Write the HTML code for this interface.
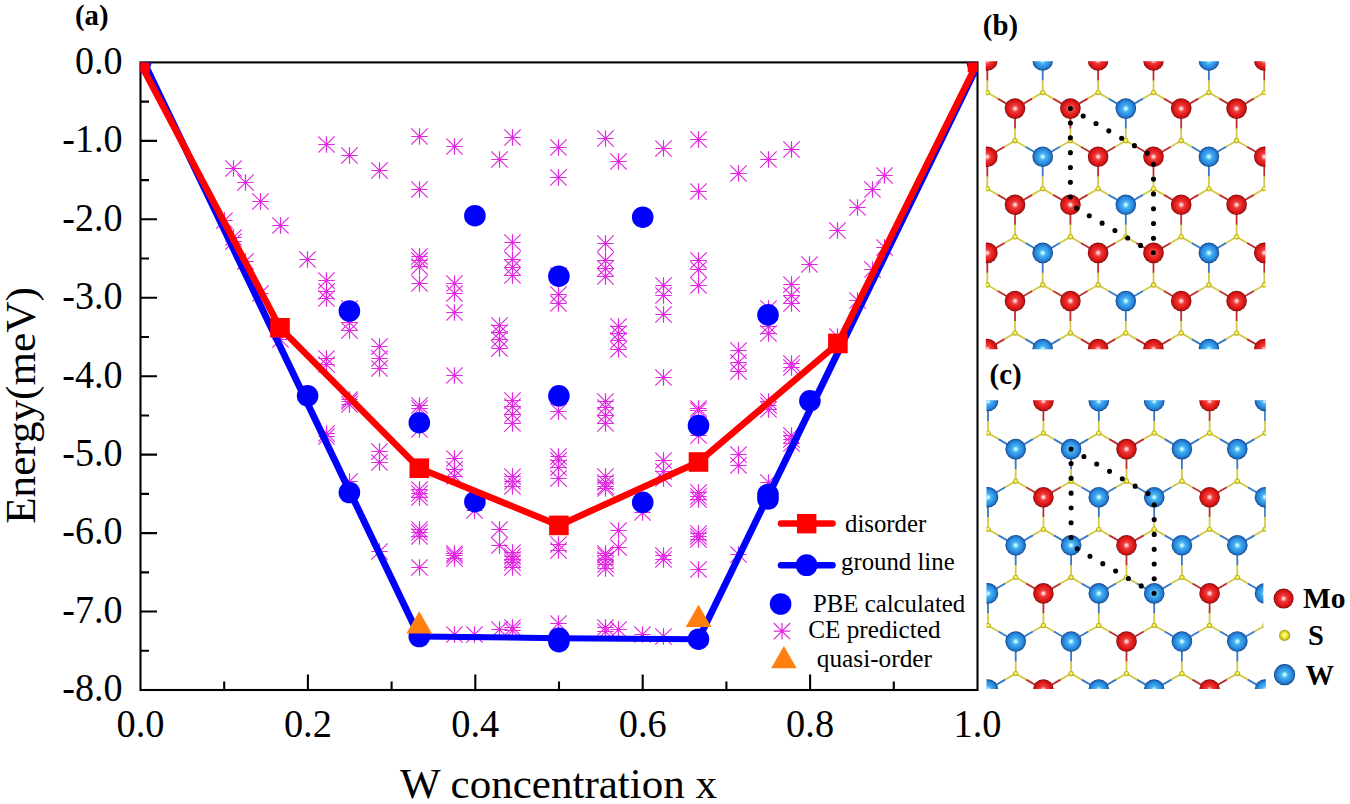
<!DOCTYPE html>
<html><head><meta charset="utf-8"><title>Figure</title>
<style>
html,body{margin:0;padding:0;background:#fff;}
body{width:1350px;height:804px;overflow:hidden;}
svg{display:block;}
text{font-family:"Liberation Serif",serif;fill:#000;}
</style></head><body>
<svg width="1350" height="804" viewBox="0 0 1350 804">
<defs>
<radialGradient id="gR" cx="0.5" cy="0.5" r="0.5" fx="0.5" fy="0.5">
 <stop offset="0" stop-color="#fff0f0"/>
 <stop offset="0.1" stop-color="#ffc8c8"/>
 <stop offset="0.32" stop-color="#f03a3a"/>
 <stop offset="0.7" stop-color="#e01818"/>
 <stop offset="0.88" stop-color="#c01212"/>
 <stop offset="1" stop-color="#6a0808"/>
</radialGradient>
<radialGradient id="gB" cx="0.5" cy="0.5" r="0.5" fx="0.5" fy="0.5">
 <stop offset="0" stop-color="#f4ffff"/>
 <stop offset="0.1" stop-color="#b8f4ff"/>
 <stop offset="0.32" stop-color="#44b0f0"/>
 <stop offset="0.7" stop-color="#2a8ae0"/>
 <stop offset="0.88" stop-color="#1e6cbc"/>
 <stop offset="1" stop-color="#0e3a80"/>
</radialGradient>
<radialGradient id="gS" cx="0.5" cy="0.5" r="0.5" fx="0.5" fy="0.45">
 <stop offset="0" stop-color="#ffffc0"/>
 <stop offset="0.5" stop-color="#f0e830"/>
 <stop offset="1" stop-color="#a09a10"/>
</radialGradient>
<path id="ast" d="M-8.2,0H8.2M0,-8.2V8.2M-8.2,-8.2L8.2,8.2M-8.2,8.2L8.2,-8.2" stroke="#e028e0" stroke-width="1.2" fill="none"/>
<clipPath id="plotclip"><rect x="140.5" y="62.4" width="837" height="627.6"/></clipPath>
<clipPath id="clipB"><rect x="985.8" y="61.2" width="279.6" height="288.1"/></clipPath>
<clipPath id="clipC"><rect x="986.5" y="400.2" width="279.3" height="288.7"/></clipPath>
</defs>

<text x="75" y="25.2" font-size="28.8" font-weight="bold">(a)</text>
<rect x="140.5" y="62.4" width="837.0" height="627.6" fill="none" stroke="#000" stroke-width="2.1"/>
<path d="M140.5,101.62h8.5M140.5,140.85h16.5M140.5,180.08h8.5M140.5,219.30h16.5M140.5,258.52h8.5M140.5,297.75h16.5M140.5,336.97h8.5M140.5,376.20h16.5M140.5,415.43h8.5M140.5,454.65h16.5M140.5,493.88h8.5M140.5,533.10h16.5M140.5,572.33h8.5M140.5,611.55h16.5M140.5,650.77h8.5M224.20,690.0v-8.5M307.90,690.0v-15.5M391.60,690.0v-8.5M475.30,690.0v-15.5M559.00,690.0v-8.5M642.70,690.0v-15.5M726.40,690.0v-8.5M810.10,690.0v-15.5M893.80,690.0v-8.5" stroke="#000" stroke-width="2.1" fill="none"/>
<text transform="translate(122.6,73.7) scale(0.94,1)" font-size="40.5" text-anchor="end">0.0</text>
<text transform="translate(122.6,152.2) scale(0.94,1)" font-size="40.5" text-anchor="end">-1.0</text>
<text transform="translate(122.6,230.6) scale(0.94,1)" font-size="40.5" text-anchor="end">-2.0</text>
<text transform="translate(122.6,309.1) scale(0.94,1)" font-size="40.5" text-anchor="end">-3.0</text>
<text transform="translate(122.6,387.5) scale(0.94,1)" font-size="40.5" text-anchor="end">-4.0</text>
<text transform="translate(122.6,465.9) scale(0.94,1)" font-size="40.5" text-anchor="end">-5.0</text>
<text transform="translate(122.6,544.4) scale(0.94,1)" font-size="40.5" text-anchor="end">-6.0</text>
<text transform="translate(122.6,622.8) scale(0.94,1)" font-size="40.5" text-anchor="end">-7.0</text>
<text transform="translate(122.6,701.3) scale(0.94,1)" font-size="40.5" text-anchor="end">-8.0</text>
<text transform="translate(140.5,737.2) scale(0.948,1)" font-size="40.5" text-anchor="middle">0.0</text>
<text transform="translate(307.9,737.2) scale(0.948,1)" font-size="40.5" text-anchor="middle">0.2</text>
<text transform="translate(475.3,737.2) scale(0.948,1)" font-size="40.5" text-anchor="middle">0.4</text>
<text transform="translate(642.7,737.2) scale(0.948,1)" font-size="40.5" text-anchor="middle">0.6</text>
<text transform="translate(810.1,737.2) scale(0.948,1)" font-size="40.5" text-anchor="middle">0.8</text>
<text transform="translate(977.5,737.2) scale(0.948,1)" font-size="40.5" text-anchor="middle">1.0</text>
<text x="0" y="0" font-size="43.2" text-anchor="middle" transform="translate(34.6,405.5) rotate(-90)">Energy(meV)</text>
<text x="558.5" y="798.1" font-size="43.05" text-anchor="middle">W concentration x</text>
<g clip-path="url(#plotclip)">
<use href="#ast" x="224.5" y="220.5"/>
<use href="#ast" x="233.5" y="168.5"/>
<use href="#ast" x="233.5" y="237.5"/>
<use href="#ast" x="233.5" y="241.5"/>
<use href="#ast" x="245.5" y="182.5"/>
<use href="#ast" x="245.5" y="261.5"/>
<use href="#ast" x="260.5" y="201.5"/>
<use href="#ast" x="260.5" y="293.5"/>
<use href="#ast" x="280.5" y="225.5"/>
<use href="#ast" x="280.5" y="339.5"/>
<use href="#ast" x="307.5" y="259.5"/>
<use href="#ast" x="326.5" y="144.5"/>
<use href="#ast" x="326.5" y="280.5"/>
<use href="#ast" x="326.5" y="291.5"/>
<use href="#ast" x="326.5" y="298.5"/>
<use href="#ast" x="326.5" y="358.5"/>
<use href="#ast" x="326.5" y="364.5"/>
<use href="#ast" x="326.5" y="433.5"/>
<use href="#ast" x="326.5" y="436.5"/>
<use href="#ast" x="349.5" y="155.5"/>
<use href="#ast" x="349.5" y="308.5"/>
<use href="#ast" x="349.5" y="322.5"/>
<use href="#ast" x="349.5" y="330.5"/>
<use href="#ast" x="349.5" y="399.5"/>
<use href="#ast" x="349.5" y="401.5"/>
<use href="#ast" x="349.5" y="404.5"/>
<use href="#ast" x="349.5" y="481.5"/>
<use href="#ast" x="379.5" y="170.5"/>
<use href="#ast" x="379.5" y="346.5"/>
<use href="#ast" x="379.5" y="358.5"/>
<use href="#ast" x="379.5" y="368.5"/>
<use href="#ast" x="379.5" y="451.5"/>
<use href="#ast" x="379.5" y="462.5"/>
<use href="#ast" x="379.5" y="551.5"/>
<use href="#ast" x="419.5" y="136.5"/>
<use href="#ast" x="419.5" y="189.5"/>
<use href="#ast" x="419.5" y="256.5"/>
<use href="#ast" x="419.5" y="260.5"/>
<use href="#ast" x="419.5" y="266.5"/>
<use href="#ast" x="419.5" y="283.5"/>
<use href="#ast" x="419.5" y="405.5"/>
<use href="#ast" x="419.5" y="408.5"/>
<use href="#ast" x="419.5" y="429.5"/>
<use href="#ast" x="419.5" y="489.5"/>
<use href="#ast" x="419.5" y="493.5"/>
<use href="#ast" x="419.5" y="497.5"/>
<use href="#ast" x="419.5" y="529.5"/>
<use href="#ast" x="419.5" y="532.5"/>
<use href="#ast" x="419.5" y="536.5"/>
<use href="#ast" x="419.5" y="567.5"/>
<use href="#ast" x="454.5" y="146.5"/>
<use href="#ast" x="454.5" y="283.5"/>
<use href="#ast" x="454.5" y="293.5"/>
<use href="#ast" x="454.5" y="312.5"/>
<use href="#ast" x="454.5" y="375.5"/>
<use href="#ast" x="454.5" y="458.5"/>
<use href="#ast" x="454.5" y="469.5"/>
<use href="#ast" x="454.5" y="476.5"/>
<use href="#ast" x="454.5" y="553.5"/>
<use href="#ast" x="454.5" y="555.5"/>
<use href="#ast" x="454.5" y="558.5"/>
<use href="#ast" x="454.5" y="634.5"/>
<use href="#ast" x="474.5" y="510.5"/>
<use href="#ast" x="474.5" y="634.5"/>
<use href="#ast" x="499.5" y="159.5"/>
<use href="#ast" x="499.5" y="325.5"/>
<use href="#ast" x="499.5" y="332.5"/>
<use href="#ast" x="499.5" y="339.5"/>
<use href="#ast" x="499.5" y="348.5"/>
<use href="#ast" x="499.5" y="529.5"/>
<use href="#ast" x="499.5" y="545.5"/>
<use href="#ast" x="499.5" y="629.5"/>
<use href="#ast" x="512.5" y="137.5"/>
<use href="#ast" x="512.5" y="242.5"/>
<use href="#ast" x="512.5" y="259.5"/>
<use href="#ast" x="512.5" y="267.5"/>
<use href="#ast" x="512.5" y="275.5"/>
<use href="#ast" x="512.5" y="400.5"/>
<use href="#ast" x="512.5" y="406.5"/>
<use href="#ast" x="512.5" y="414.5"/>
<use href="#ast" x="512.5" y="423.5"/>
<use href="#ast" x="512.5" y="476.5"/>
<use href="#ast" x="512.5" y="481.5"/>
<use href="#ast" x="512.5" y="486.5"/>
<use href="#ast" x="512.5" y="552.5"/>
<use href="#ast" x="512.5" y="556.5"/>
<use href="#ast" x="512.5" y="559.5"/>
<use href="#ast" x="512.5" y="562.5"/>
<use href="#ast" x="512.5" y="567.5"/>
<use href="#ast" x="512.5" y="627.5"/>
<use href="#ast" x="512.5" y="630.5"/>
<use href="#ast" x="558.5" y="147.5"/>
<use href="#ast" x="558.5" y="177.5"/>
<use href="#ast" x="558.5" y="275.5"/>
<use href="#ast" x="558.5" y="294.5"/>
<use href="#ast" x="558.5" y="303.5"/>
<use href="#ast" x="558.5" y="411.5"/>
<use href="#ast" x="558.5" y="456.5"/>
<use href="#ast" x="558.5" y="460.5"/>
<use href="#ast" x="558.5" y="467.5"/>
<use href="#ast" x="558.5" y="478.5"/>
<use href="#ast" x="558.5" y="544.5"/>
<use href="#ast" x="558.5" y="550.5"/>
<use href="#ast" x="558.5" y="623.5"/>
<use href="#ast" x="605.5" y="138.5"/>
<use href="#ast" x="605.5" y="243.5"/>
<use href="#ast" x="605.5" y="260.5"/>
<use href="#ast" x="605.5" y="268.5"/>
<use href="#ast" x="605.5" y="276.5"/>
<use href="#ast" x="605.5" y="401.5"/>
<use href="#ast" x="605.5" y="407.5"/>
<use href="#ast" x="605.5" y="415.5"/>
<use href="#ast" x="605.5" y="423.5"/>
<use href="#ast" x="605.5" y="476.5"/>
<use href="#ast" x="605.5" y="482.5"/>
<use href="#ast" x="605.5" y="486.5"/>
<use href="#ast" x="605.5" y="488.5"/>
<use href="#ast" x="605.5" y="553.5"/>
<use href="#ast" x="605.5" y="555.5"/>
<use href="#ast" x="605.5" y="559.5"/>
<use href="#ast" x="605.5" y="564.5"/>
<use href="#ast" x="605.5" y="568.5"/>
<use href="#ast" x="605.5" y="627.5"/>
<use href="#ast" x="605.5" y="631.5"/>
<use href="#ast" x="618.5" y="161.5"/>
<use href="#ast" x="618.5" y="326.5"/>
<use href="#ast" x="618.5" y="333.5"/>
<use href="#ast" x="618.5" y="340.5"/>
<use href="#ast" x="618.5" y="349.5"/>
<use href="#ast" x="618.5" y="530.5"/>
<use href="#ast" x="618.5" y="547.5"/>
<use href="#ast" x="618.5" y="629.5"/>
<use href="#ast" x="642.5" y="512.5"/>
<use href="#ast" x="642.5" y="634.5"/>
<use href="#ast" x="663.5" y="148.5"/>
<use href="#ast" x="663.5" y="285.5"/>
<use href="#ast" x="663.5" y="295.5"/>
<use href="#ast" x="663.5" y="314.5"/>
<use href="#ast" x="663.5" y="377.5"/>
<use href="#ast" x="663.5" y="460.5"/>
<use href="#ast" x="663.5" y="471.5"/>
<use href="#ast" x="663.5" y="478.5"/>
<use href="#ast" x="663.5" y="555.5"/>
<use href="#ast" x="663.5" y="559.5"/>
<use href="#ast" x="663.5" y="636.5"/>
<use href="#ast" x="698.5" y="139.5"/>
<use href="#ast" x="698.5" y="191.5"/>
<use href="#ast" x="698.5" y="260.5"/>
<use href="#ast" x="698.5" y="269.5"/>
<use href="#ast" x="698.5" y="285.5"/>
<use href="#ast" x="698.5" y="408.5"/>
<use href="#ast" x="698.5" y="410.5"/>
<use href="#ast" x="698.5" y="435.5"/>
<use href="#ast" x="698.5" y="492.5"/>
<use href="#ast" x="698.5" y="496.5"/>
<use href="#ast" x="698.5" y="499.5"/>
<use href="#ast" x="698.5" y="533.5"/>
<use href="#ast" x="698.5" y="536.5"/>
<use href="#ast" x="698.5" y="539.5"/>
<use href="#ast" x="698.5" y="569.5"/>
<use href="#ast" x="738.5" y="173.5"/>
<use href="#ast" x="738.5" y="350.5"/>
<use href="#ast" x="738.5" y="362.5"/>
<use href="#ast" x="738.5" y="371.5"/>
<use href="#ast" x="738.5" y="454.5"/>
<use href="#ast" x="738.5" y="465.5"/>
<use href="#ast" x="738.5" y="554.5"/>
<use href="#ast" x="768.5" y="159.5"/>
<use href="#ast" x="768.5" y="308.5"/>
<use href="#ast" x="768.5" y="326.5"/>
<use href="#ast" x="768.5" y="333.5"/>
<use href="#ast" x="768.5" y="401.5"/>
<use href="#ast" x="768.5" y="405.5"/>
<use href="#ast" x="768.5" y="409.5"/>
<use href="#ast" x="768.5" y="482.5"/>
<use href="#ast" x="791.5" y="149.5"/>
<use href="#ast" x="791.5" y="284.5"/>
<use href="#ast" x="791.5" y="295.5"/>
<use href="#ast" x="791.5" y="303.5"/>
<use href="#ast" x="791.5" y="363.5"/>
<use href="#ast" x="791.5" y="367.5"/>
<use href="#ast" x="791.5" y="435.5"/>
<use href="#ast" x="791.5" y="439.5"/>
<use href="#ast" x="791.5" y="443.5"/>
<use href="#ast" x="809.5" y="264.5"/>
<use href="#ast" x="837.5" y="230.5"/>
<use href="#ast" x="837.5" y="336.5"/>
<use href="#ast" x="857.5" y="207.5"/>
<use href="#ast" x="857.5" y="300.5"/>
<use href="#ast" x="872.5" y="189.5"/>
<use href="#ast" x="872.5" y="269.5"/>
<use href="#ast" x="884.5" y="175.5"/>
<use href="#ast" x="884.5" y="247.5"/>
<polyline points="144.0,62.4 419.3,636.5" fill="none" stroke="#0000ff" stroke-width="6.8" stroke-linejoin="round"/>
<polyline points="419.3,636.5 558.9,638.2 698.5,639.2" fill="none" stroke="#0000ff" stroke-width="6.0" stroke-linejoin="round"/>
<polyline points="698.5,639.2 979.0,62.4" fill="none" stroke="#0000ff" stroke-width="6.8" stroke-linejoin="round"/>
<circle cx="307.6" cy="395.8" r="10.8" fill="#0000ff"/>
<circle cx="349.4" cy="311.0" r="10.8" fill="#0000ff"/>
<circle cx="349.4" cy="492.5" r="10.8" fill="#0000ff"/>
<circle cx="419.3" cy="422.7" r="10.8" fill="#0000ff"/>
<circle cx="474.9" cy="215.7" r="10.8" fill="#0000ff"/>
<circle cx="474.9" cy="501.7" r="10.8" fill="#0000ff"/>
<circle cx="558.9" cy="276.2" r="10.8" fill="#0000ff"/>
<circle cx="558.9" cy="395.8" r="10.8" fill="#0000ff"/>
<circle cx="642.7" cy="217.2" r="10.8" fill="#0000ff"/>
<circle cx="642.7" cy="502.4" r="10.8" fill="#0000ff"/>
<circle cx="698.5" cy="425.5" r="10.8" fill="#0000ff"/>
<circle cx="768.0" cy="314.9" r="10.8" fill="#0000ff"/>
<circle cx="768.0" cy="494.5" r="10.8" fill="#0000ff"/>
<circle cx="768.0" cy="499.0" r="10.8" fill="#0000ff"/>
<circle cx="809.9" cy="400.8" r="10.8" fill="#0000ff"/>
<circle cx="140.5" cy="62.4" r="10.8" fill="#0000ff"/>
<circle cx="977.5" cy="62.4" r="10.8" fill="#0000ff"/>
<circle cx="558.9" cy="641.6" r="10.8" fill="#0000ff"/>
<circle cx="419.3" cy="636.5" r="10.8" fill="#0000ff"/>
<circle cx="558.9" cy="638.2" r="10.8" fill="#0000ff"/>
<circle cx="698.5" cy="639.2" r="10.8" fill="#0000ff"/>
<polyline points="139.9,62.4 280.0,327.8 419.3,468.2 558.9,525.4 698.5,462.0 837.9,343.5 977.5,62.4" fill="none" stroke="#ff0000" stroke-width="6.6" stroke-linejoin="round"/>
<rect x="130.1" y="52.6" width="19.6" height="19.6" fill="#ff0000"/>
<rect x="270.2" y="318.0" width="19.6" height="19.6" fill="#ff0000"/>
<rect x="409.5" y="458.4" width="19.6" height="19.6" fill="#ff0000"/>
<rect x="549.1" y="515.6" width="19.6" height="19.6" fill="#ff0000"/>
<rect x="688.7" y="452.2" width="19.6" height="19.6" fill="#ff0000"/>
<rect x="828.1" y="333.7" width="19.6" height="19.6" fill="#ff0000"/>
<rect x="967.7" y="52.6" width="19.6" height="19.6" fill="#ff0000"/>
<path d="M419.2,611.3L432.0,633.5L406.4,633.5Z" fill="#ff8010"/>
<path d="M698.5,604.8L711.3,627.0L685.7,627.0Z" fill="#ff8010"/>
</g>
<line x1="781" y1="523.5" x2="832.5" y2="523.5" stroke="#ff0000" stroke-width="6.5" stroke-linecap="round"/>
<rect x="797" y="514" width="19.4" height="19.4" fill="#ff0000"/>
<text x="845" y="531.5" font-size="24.8">disorder</text>
<line x1="781" y1="565.2" x2="832.5" y2="565.2" stroke="#0000ff" stroke-width="6.5" stroke-linecap="round"/>
<circle cx="806.6" cy="565.2" r="10.9" fill="#0000ff"/>
<text x="841" y="570.3" font-size="24.8">ground line</text>
<circle cx="780.6" cy="604" r="10.8" fill="#0000ff"/>
<text x="813" y="611.6" font-size="24.8">PBE calculated</text>
<use href="#ast" x="782" y="631.2"/>
<text x="808.3" y="637.9" font-size="25.2">CE predicted</text>
<path d="M783.9,646.0L796.6999999999999,668.2L771.1,668.2Z" fill="#ff8010"/>
<text x="816.8" y="667.2" font-size="25.3">quasi-order</text>
<text x="982.8" y="35" font-size="28.8" font-weight="bold">(b)</text>
<g clip-path="url(#clipB)">
<path d="M904.20,44.47L904.20,32.28M904.20,44.47L893.68,50.55M904.20,44.47L914.72,50.55M959.60,44.47L959.60,32.28M959.60,44.47L949.08,50.55M959.60,44.47L970.12,50.55M1015.00,44.47L1015.00,32.28M1015.00,44.47L1004.48,50.55M1015.00,44.47L1025.52,50.55M1070.40,44.47L1070.40,32.28M1070.40,44.47L1059.88,50.55M1070.40,44.47L1080.92,50.55M1125.80,44.47L1125.80,32.28M1125.80,44.47L1115.28,50.55M1125.80,44.47L1136.32,50.55M1181.20,44.47L1181.20,32.28M1181.20,44.47L1170.68,50.55M1181.20,44.47L1191.72,50.55M1236.60,44.47L1236.60,32.28M1236.60,44.47L1226.08,50.55M1236.60,44.47L1247.12,50.55M1292.00,44.47L1292.00,32.28M1292.00,44.47L1281.48,50.55M1292.00,44.47L1302.52,50.55M1347.40,44.47L1347.40,32.28M1347.40,44.47L1336.88,50.55M1347.40,44.47L1357.92,50.55M1402.80,44.47L1402.80,32.28M1402.80,44.47L1392.28,50.55M876.50,92.57L876.50,80.38M876.50,92.57L887.02,98.65M931.90,92.57L931.90,80.38M931.90,92.57L921.38,98.65M931.90,92.57L942.42,98.65M987.30,92.57L987.30,80.38M987.30,92.57L976.78,98.65M987.30,92.57L997.82,98.65M1042.70,92.57L1042.70,80.38M1042.70,92.57L1032.18,98.65M1042.70,92.57L1053.22,98.65M1098.10,92.57L1098.10,80.38M1098.10,92.57L1087.58,98.65M1098.10,92.57L1108.62,98.65M1153.50,92.57L1153.50,80.38M1153.50,92.57L1142.98,98.65M1153.50,92.57L1164.02,98.65M1208.90,92.57L1208.90,80.38M1208.90,92.57L1198.38,98.65M1208.90,92.57L1219.42,98.65M1264.30,92.57L1264.30,80.38M1264.30,92.57L1253.78,98.65M1264.30,92.57L1274.82,98.65M1319.70,92.57L1319.70,80.38M1319.70,92.57L1309.18,98.65M1319.70,92.57L1330.22,98.65M1375.10,92.57L1375.10,80.38M1375.10,92.57L1364.58,98.65M1375.10,92.57L1385.62,98.65M904.20,140.67L904.20,128.48M904.20,140.67L893.68,146.75M904.20,140.67L914.72,146.75M959.60,140.67L959.60,128.48M959.60,140.67L949.08,146.75M959.60,140.67L970.12,146.75M1015.00,140.67L1015.00,128.48M1015.00,140.67L1004.48,146.75M1015.00,140.67L1025.52,146.75M1070.40,140.67L1070.40,128.48M1070.40,140.67L1059.88,146.75M1070.40,140.67L1080.92,146.75M1125.80,140.67L1125.80,128.48M1125.80,140.67L1115.28,146.75M1125.80,140.67L1136.32,146.75M1181.20,140.67L1181.20,128.48M1181.20,140.67L1170.68,146.75M1181.20,140.67L1191.72,146.75M1236.60,140.67L1236.60,128.48M1236.60,140.67L1226.08,146.75M1236.60,140.67L1247.12,146.75M1292.00,140.67L1292.00,128.48M1292.00,140.67L1281.48,146.75M1292.00,140.67L1302.52,146.75M1347.40,140.67L1347.40,128.48M1347.40,140.67L1336.88,146.75M1347.40,140.67L1357.92,146.75M1402.80,140.67L1402.80,128.48M1402.80,140.67L1392.28,146.75M876.50,188.77L876.50,176.58M876.50,188.77L887.02,194.85M931.90,188.77L931.90,176.58M931.90,188.77L921.38,194.85M931.90,188.77L942.42,194.85M987.30,188.77L987.30,176.58M987.30,188.77L976.78,194.85M987.30,188.77L997.82,194.85M1042.70,188.77L1042.70,176.58M1042.70,188.77L1032.18,194.85M1042.70,188.77L1053.22,194.85M1098.10,188.77L1098.10,176.58M1098.10,188.77L1087.58,194.85M1098.10,188.77L1108.62,194.85M1153.50,188.77L1153.50,176.58M1153.50,188.77L1142.98,194.85M1153.50,188.77L1164.02,194.85M1208.90,188.77L1208.90,176.58M1208.90,188.77L1198.38,194.85M1208.90,188.77L1219.42,194.85M1264.30,188.77L1264.30,176.58M1264.30,188.77L1253.78,194.85M1264.30,188.77L1274.82,194.85M1319.70,188.77L1319.70,176.58M1319.70,188.77L1309.18,194.85M1319.70,188.77L1330.22,194.85M1375.10,188.77L1375.10,176.58M1375.10,188.77L1364.58,194.85M1375.10,188.77L1385.62,194.85M904.20,236.87L904.20,224.68M904.20,236.87L893.68,242.95M904.20,236.87L914.72,242.95M959.60,236.87L959.60,224.68M959.60,236.87L949.08,242.95M959.60,236.87L970.12,242.95M1015.00,236.87L1015.00,224.68M1015.00,236.87L1004.48,242.95M1015.00,236.87L1025.52,242.95M1070.40,236.87L1070.40,224.68M1070.40,236.87L1059.88,242.95M1070.40,236.87L1080.92,242.95M1125.80,236.87L1125.80,224.68M1125.80,236.87L1115.28,242.95M1125.80,236.87L1136.32,242.95M1181.20,236.87L1181.20,224.68M1181.20,236.87L1170.68,242.95M1181.20,236.87L1191.72,242.95M1236.60,236.87L1236.60,224.68M1236.60,236.87L1226.08,242.95M1236.60,236.87L1247.12,242.95M1292.00,236.87L1292.00,224.68M1292.00,236.87L1281.48,242.95M1292.00,236.87L1302.52,242.95M1347.40,236.87L1347.40,224.68M1347.40,236.87L1336.88,242.95M1347.40,236.87L1357.92,242.95M1402.80,236.87L1402.80,224.68M1402.80,236.87L1392.28,242.95M876.50,284.97L876.50,272.78M876.50,284.97L887.02,291.05M931.90,284.97L931.90,272.78M931.90,284.97L921.38,291.05M931.90,284.97L942.42,291.05M987.30,284.97L987.30,272.78M987.30,284.97L976.78,291.05M987.30,284.97L997.82,291.05M1042.70,284.97L1042.70,272.78M1042.70,284.97L1032.18,291.05M1042.70,284.97L1053.22,291.05M1098.10,284.97L1098.10,272.78M1098.10,284.97L1087.58,291.05M1098.10,284.97L1108.62,291.05M1153.50,284.97L1153.50,272.78M1153.50,284.97L1142.98,291.05M1153.50,284.97L1164.02,291.05M1208.90,284.97L1208.90,272.78M1208.90,284.97L1198.38,291.05M1208.90,284.97L1219.42,291.05M1264.30,284.97L1264.30,272.78M1264.30,284.97L1253.78,291.05M1264.30,284.97L1274.82,291.05M1319.70,284.97L1319.70,272.78M1319.70,284.97L1309.18,291.05M1319.70,284.97L1330.22,291.05M1375.10,284.97L1375.10,272.78M1375.10,284.97L1364.58,291.05M1375.10,284.97L1385.62,291.05M904.20,333.07L904.20,320.88M904.20,333.07L893.68,339.15M904.20,333.07L914.72,339.15M959.60,333.07L959.60,320.88M959.60,333.07L949.08,339.15M959.60,333.07L970.12,339.15M1015.00,333.07L1015.00,320.88M1015.00,333.07L1004.48,339.15M1015.00,333.07L1025.52,339.15M1070.40,333.07L1070.40,320.88M1070.40,333.07L1059.88,339.15M1070.40,333.07L1080.92,339.15M1125.80,333.07L1125.80,320.88M1125.80,333.07L1115.28,339.15M1125.80,333.07L1136.32,339.15M1181.20,333.07L1181.20,320.88M1181.20,333.07L1170.68,339.15M1181.20,333.07L1191.72,339.15M1236.60,333.07L1236.60,320.88M1236.60,333.07L1226.08,339.15M1236.60,333.07L1247.12,339.15M1292.00,333.07L1292.00,320.88M1292.00,333.07L1281.48,339.15M1292.00,333.07L1302.52,339.15M1347.40,333.07L1347.40,320.88M1347.40,333.07L1336.88,339.15M1347.40,333.07L1357.92,339.15M1402.80,333.07L1402.80,320.88M1402.80,333.07L1392.28,339.15M876.50,381.17L876.50,368.98M876.50,381.17L887.02,387.25M931.90,381.17L931.90,368.98M931.90,381.17L921.38,387.25M931.90,381.17L942.42,387.25M987.30,381.17L987.30,368.98M987.30,381.17L976.78,387.25M987.30,381.17L997.82,387.25M1042.70,381.17L1042.70,368.98M1042.70,381.17L1032.18,387.25M1042.70,381.17L1053.22,387.25M1098.10,381.17L1098.10,368.98M1098.10,381.17L1087.58,387.25M1098.10,381.17L1108.62,387.25M1153.50,381.17L1153.50,368.98M1153.50,381.17L1142.98,387.25M1153.50,381.17L1164.02,387.25M1208.90,381.17L1208.90,368.98M1208.90,381.17L1198.38,387.25M1208.90,381.17L1219.42,387.25M1264.30,381.17L1264.30,368.98M1264.30,381.17L1253.78,387.25M1264.30,381.17L1274.82,387.25M1319.70,381.17L1319.70,368.98M1319.70,381.17L1309.18,387.25M1319.70,381.17L1330.22,387.25M1375.10,381.17L1375.10,368.98M1375.10,381.17L1364.58,387.25M1375.10,381.17L1385.62,387.25M904.20,429.27L904.20,417.08M959.60,429.27L959.60,417.08M1015.00,429.27L1015.00,417.08M1070.40,429.27L1070.40,417.08M1125.80,429.27L1125.80,417.08M1181.20,429.27L1181.20,417.08M1236.60,429.27L1236.60,417.08M1292.00,429.27L1292.00,417.08M1347.40,429.27L1347.40,417.08M1402.80,429.27L1402.80,417.08" stroke="#d2ca46" stroke-width="1.8" fill="none"/>
<path d="M904.20,32.28L904.20,12.40M914.72,50.55L931.90,60.50M949.08,50.55L931.90,60.50M970.12,50.55L987.30,60.50M1015.00,32.28L1015.00,12.40M1004.48,50.55L987.30,60.50M1070.40,32.28L1070.40,12.40M1080.92,50.55L1098.10,60.50M1115.28,50.55L1098.10,60.50M1136.32,50.55L1153.50,60.50M1181.20,32.28L1181.20,12.40M1170.68,50.55L1153.50,60.50M1236.60,32.28L1236.60,12.40M1247.12,50.55L1264.30,60.50M1281.48,50.55L1264.30,60.50M1302.52,50.55L1319.70,60.50M1347.40,32.28L1347.40,12.40M1336.88,50.55L1319.70,60.50M1402.80,32.28L1402.80,12.40M887.02,98.65L904.20,108.60M931.90,80.38L931.90,60.50M921.38,98.65L904.20,108.60M987.30,80.38L987.30,60.50M997.82,98.65L1015.00,108.60M1032.18,98.65L1015.00,108.60M1053.22,98.65L1070.40,108.60M1098.10,80.38L1098.10,60.50M1087.58,98.65L1070.40,108.60M1153.50,80.38L1153.50,60.50M1164.02,98.65L1181.20,108.60M1198.38,98.65L1181.20,108.60M1219.42,98.65L1236.60,108.60M1264.30,80.38L1264.30,60.50M1253.78,98.65L1236.60,108.60M1319.70,80.38L1319.70,60.50M1330.22,98.65L1347.40,108.60M1364.58,98.65L1347.40,108.60M1385.62,98.65L1402.80,108.60M904.20,128.48L904.20,108.60M914.72,146.75L931.90,156.70M949.08,146.75L931.90,156.70M970.12,146.75L987.30,156.70M1015.00,128.48L1015.00,108.60M1004.48,146.75L987.30,156.70M1070.40,128.48L1070.40,108.60M1080.92,146.75L1098.10,156.70M1115.28,146.75L1098.10,156.70M1136.32,146.75L1153.50,156.70M1181.20,128.48L1181.20,108.60M1170.68,146.75L1153.50,156.70M1236.60,128.48L1236.60,108.60M1247.12,146.75L1264.30,156.70M1281.48,146.75L1264.30,156.70M1302.52,146.75L1319.70,156.70M1347.40,128.48L1347.40,108.60M1336.88,146.75L1319.70,156.70M1402.80,128.48L1402.80,108.60M887.02,194.85L904.20,204.80M931.90,176.58L931.90,156.70M921.38,194.85L904.20,204.80M987.30,176.58L987.30,156.70M997.82,194.85L1015.00,204.80M1032.18,194.85L1015.00,204.80M1053.22,194.85L1070.40,204.80M1098.10,176.58L1098.10,156.70M1087.58,194.85L1070.40,204.80M1153.50,176.58L1153.50,156.70M1164.02,194.85L1181.20,204.80M1198.38,194.85L1181.20,204.80M1219.42,194.85L1236.60,204.80M1264.30,176.58L1264.30,156.70M1253.78,194.85L1236.60,204.80M1319.70,176.58L1319.70,156.70M1330.22,194.85L1347.40,204.80M1364.58,194.85L1347.40,204.80M1385.62,194.85L1402.80,204.80M904.20,224.68L904.20,204.80M914.72,242.95L931.90,252.90M949.08,242.95L931.90,252.90M970.12,242.95L987.30,252.90M1015.00,224.68L1015.00,204.80M1004.48,242.95L987.30,252.90M1070.40,224.68L1070.40,204.80M1080.92,242.95L1098.10,252.90M1115.28,242.95L1098.10,252.90M1136.32,242.95L1153.50,252.90M1181.20,224.68L1181.20,204.80M1170.68,242.95L1153.50,252.90M1236.60,224.68L1236.60,204.80M1247.12,242.95L1264.30,252.90M1281.48,242.95L1264.30,252.90M1302.52,242.95L1319.70,252.90M1347.40,224.68L1347.40,204.80M1336.88,242.95L1319.70,252.90M1402.80,224.68L1402.80,204.80M887.02,291.05L904.20,301.00M931.90,272.78L931.90,252.90M921.38,291.05L904.20,301.00M987.30,272.78L987.30,252.90M997.82,291.05L1015.00,301.00M1032.18,291.05L1015.00,301.00M1053.22,291.05L1070.40,301.00M1098.10,272.78L1098.10,252.90M1087.58,291.05L1070.40,301.00M1153.50,272.78L1153.50,252.90M1164.02,291.05L1181.20,301.00M1198.38,291.05L1181.20,301.00M1219.42,291.05L1236.60,301.00M1264.30,272.78L1264.30,252.90M1253.78,291.05L1236.60,301.00M1319.70,272.78L1319.70,252.90M1330.22,291.05L1347.40,301.00M1364.58,291.05L1347.40,301.00M1385.62,291.05L1402.80,301.00M904.20,320.88L904.20,301.00M914.72,339.15L931.90,349.10M949.08,339.15L931.90,349.10M970.12,339.15L987.30,349.10M1015.00,320.88L1015.00,301.00M1004.48,339.15L987.30,349.10M1070.40,320.88L1070.40,301.00M1080.92,339.15L1098.10,349.10M1115.28,339.15L1098.10,349.10M1136.32,339.15L1153.50,349.10M1181.20,320.88L1181.20,301.00M1170.68,339.15L1153.50,349.10M1236.60,320.88L1236.60,301.00M1247.12,339.15L1264.30,349.10M1281.48,339.15L1264.30,349.10M1302.52,339.15L1319.70,349.10M1347.40,320.88L1347.40,301.00M1336.88,339.15L1319.70,349.10M1402.80,320.88L1402.80,301.00M887.02,387.25L904.20,397.20M931.90,368.98L931.90,349.10M921.38,387.25L904.20,397.20M987.30,368.98L987.30,349.10M997.82,387.25L1015.00,397.20M1032.18,387.25L1015.00,397.20M1053.22,387.25L1070.40,397.20M1098.10,368.98L1098.10,349.10M1087.58,387.25L1070.40,397.20M1153.50,368.98L1153.50,349.10M1164.02,387.25L1181.20,397.20M1198.38,387.25L1181.20,397.20M1219.42,387.25L1236.60,397.20M1264.30,368.98L1264.30,349.10M1253.78,387.25L1236.60,397.20M1319.70,368.98L1319.70,349.10M1330.22,387.25L1347.40,397.20M1364.58,387.25L1347.40,397.20M1385.62,387.25L1402.80,397.20M904.20,417.08L904.20,397.20M1015.00,417.08L1015.00,397.20M1070.40,417.08L1070.40,397.20M1181.20,417.08L1181.20,397.20M1236.60,417.08L1236.60,397.20M1347.40,417.08L1347.40,397.20M1402.80,417.08L1402.80,397.20" stroke="#bc2e2e" stroke-width="1.8" fill="none"/>
<path d="M893.68,50.55L876.50,60.50M959.60,32.28L959.60,12.40M1025.52,50.55L1042.70,60.50M1059.88,50.55L1042.70,60.50M1125.80,32.28L1125.80,12.40M1191.72,50.55L1208.90,60.50M1226.08,50.55L1208.90,60.50M1292.00,32.28L1292.00,12.40M1357.92,50.55L1375.10,60.50M1392.28,50.55L1375.10,60.50M876.50,80.38L876.50,60.50M942.42,98.65L959.60,108.60M976.78,98.65L959.60,108.60M1042.70,80.38L1042.70,60.50M1108.62,98.65L1125.80,108.60M1142.98,98.65L1125.80,108.60M1208.90,80.38L1208.90,60.50M1274.82,98.65L1292.00,108.60M1309.18,98.65L1292.00,108.60M1375.10,80.38L1375.10,60.50M893.68,146.75L876.50,156.70M959.60,128.48L959.60,108.60M1025.52,146.75L1042.70,156.70M1059.88,146.75L1042.70,156.70M1125.80,128.48L1125.80,108.60M1191.72,146.75L1208.90,156.70M1226.08,146.75L1208.90,156.70M1292.00,128.48L1292.00,108.60M1357.92,146.75L1375.10,156.70M1392.28,146.75L1375.10,156.70M876.50,176.58L876.50,156.70M942.42,194.85L959.60,204.80M976.78,194.85L959.60,204.80M1042.70,176.58L1042.70,156.70M1108.62,194.85L1125.80,204.80M1142.98,194.85L1125.80,204.80M1208.90,176.58L1208.90,156.70M1274.82,194.85L1292.00,204.80M1309.18,194.85L1292.00,204.80M1375.10,176.58L1375.10,156.70M893.68,242.95L876.50,252.90M959.60,224.68L959.60,204.80M1025.52,242.95L1042.70,252.90M1059.88,242.95L1042.70,252.90M1125.80,224.68L1125.80,204.80M1191.72,242.95L1208.90,252.90M1226.08,242.95L1208.90,252.90M1292.00,224.68L1292.00,204.80M1357.92,242.95L1375.10,252.90M1392.28,242.95L1375.10,252.90M876.50,272.78L876.50,252.90M942.42,291.05L959.60,301.00M976.78,291.05L959.60,301.00M1042.70,272.78L1042.70,252.90M1108.62,291.05L1125.80,301.00M1142.98,291.05L1125.80,301.00M1208.90,272.78L1208.90,252.90M1274.82,291.05L1292.00,301.00M1309.18,291.05L1292.00,301.00M1375.10,272.78L1375.10,252.90M893.68,339.15L876.50,349.10M959.60,320.88L959.60,301.00M1025.52,339.15L1042.70,349.10M1059.88,339.15L1042.70,349.10M1125.80,320.88L1125.80,301.00M1191.72,339.15L1208.90,349.10M1226.08,339.15L1208.90,349.10M1292.00,320.88L1292.00,301.00M1357.92,339.15L1375.10,349.10M1392.28,339.15L1375.10,349.10M876.50,368.98L876.50,349.10M942.42,387.25L959.60,397.20M976.78,387.25L959.60,397.20M1042.70,368.98L1042.70,349.10M1108.62,387.25L1125.80,397.20M1142.98,387.25L1125.80,397.20M1208.90,368.98L1208.90,349.10M1274.82,387.25L1292.00,397.20M1309.18,387.25L1292.00,397.20M1375.10,368.98L1375.10,349.10M959.60,417.08L959.60,397.20M1125.80,417.08L1125.80,397.20M1292.00,417.08L1292.00,397.20" stroke="#3678c2" stroke-width="1.8" fill="none"/>
<circle cx="904.20" cy="44.47" r="2.6" fill="url(#gS)"/>
<circle cx="959.60" cy="44.47" r="2.6" fill="url(#gS)"/>
<circle cx="1015.00" cy="44.47" r="2.6" fill="url(#gS)"/>
<circle cx="1070.40" cy="44.47" r="2.6" fill="url(#gS)"/>
<circle cx="1125.80" cy="44.47" r="2.6" fill="url(#gS)"/>
<circle cx="1181.20" cy="44.47" r="2.6" fill="url(#gS)"/>
<circle cx="1236.60" cy="44.47" r="2.6" fill="url(#gS)"/>
<circle cx="1292.00" cy="44.47" r="2.6" fill="url(#gS)"/>
<circle cx="1347.40" cy="44.47" r="2.6" fill="url(#gS)"/>
<circle cx="1402.80" cy="44.47" r="2.6" fill="url(#gS)"/>
<circle cx="876.50" cy="92.57" r="2.6" fill="url(#gS)"/>
<circle cx="931.90" cy="92.57" r="2.6" fill="url(#gS)"/>
<circle cx="987.30" cy="92.57" r="2.6" fill="url(#gS)"/>
<circle cx="1042.70" cy="92.57" r="2.6" fill="url(#gS)"/>
<circle cx="1098.10" cy="92.57" r="2.6" fill="url(#gS)"/>
<circle cx="1153.50" cy="92.57" r="2.6" fill="url(#gS)"/>
<circle cx="1208.90" cy="92.57" r="2.6" fill="url(#gS)"/>
<circle cx="1264.30" cy="92.57" r="2.6" fill="url(#gS)"/>
<circle cx="1319.70" cy="92.57" r="2.6" fill="url(#gS)"/>
<circle cx="1375.10" cy="92.57" r="2.6" fill="url(#gS)"/>
<circle cx="904.20" cy="140.67" r="2.6" fill="url(#gS)"/>
<circle cx="959.60" cy="140.67" r="2.6" fill="url(#gS)"/>
<circle cx="1015.00" cy="140.67" r="2.6" fill="url(#gS)"/>
<circle cx="1070.40" cy="140.67" r="2.6" fill="url(#gS)"/>
<circle cx="1125.80" cy="140.67" r="2.6" fill="url(#gS)"/>
<circle cx="1181.20" cy="140.67" r="2.6" fill="url(#gS)"/>
<circle cx="1236.60" cy="140.67" r="2.6" fill="url(#gS)"/>
<circle cx="1292.00" cy="140.67" r="2.6" fill="url(#gS)"/>
<circle cx="1347.40" cy="140.67" r="2.6" fill="url(#gS)"/>
<circle cx="1402.80" cy="140.67" r="2.6" fill="url(#gS)"/>
<circle cx="876.50" cy="188.77" r="2.6" fill="url(#gS)"/>
<circle cx="931.90" cy="188.77" r="2.6" fill="url(#gS)"/>
<circle cx="987.30" cy="188.77" r="2.6" fill="url(#gS)"/>
<circle cx="1042.70" cy="188.77" r="2.6" fill="url(#gS)"/>
<circle cx="1098.10" cy="188.77" r="2.6" fill="url(#gS)"/>
<circle cx="1153.50" cy="188.77" r="2.6" fill="url(#gS)"/>
<circle cx="1208.90" cy="188.77" r="2.6" fill="url(#gS)"/>
<circle cx="1264.30" cy="188.77" r="2.6" fill="url(#gS)"/>
<circle cx="1319.70" cy="188.77" r="2.6" fill="url(#gS)"/>
<circle cx="1375.10" cy="188.77" r="2.6" fill="url(#gS)"/>
<circle cx="904.20" cy="236.87" r="2.6" fill="url(#gS)"/>
<circle cx="959.60" cy="236.87" r="2.6" fill="url(#gS)"/>
<circle cx="1015.00" cy="236.87" r="2.6" fill="url(#gS)"/>
<circle cx="1070.40" cy="236.87" r="2.6" fill="url(#gS)"/>
<circle cx="1125.80" cy="236.87" r="2.6" fill="url(#gS)"/>
<circle cx="1181.20" cy="236.87" r="2.6" fill="url(#gS)"/>
<circle cx="1236.60" cy="236.87" r="2.6" fill="url(#gS)"/>
<circle cx="1292.00" cy="236.87" r="2.6" fill="url(#gS)"/>
<circle cx="1347.40" cy="236.87" r="2.6" fill="url(#gS)"/>
<circle cx="1402.80" cy="236.87" r="2.6" fill="url(#gS)"/>
<circle cx="876.50" cy="284.97" r="2.6" fill="url(#gS)"/>
<circle cx="931.90" cy="284.97" r="2.6" fill="url(#gS)"/>
<circle cx="987.30" cy="284.97" r="2.6" fill="url(#gS)"/>
<circle cx="1042.70" cy="284.97" r="2.6" fill="url(#gS)"/>
<circle cx="1098.10" cy="284.97" r="2.6" fill="url(#gS)"/>
<circle cx="1153.50" cy="284.97" r="2.6" fill="url(#gS)"/>
<circle cx="1208.90" cy="284.97" r="2.6" fill="url(#gS)"/>
<circle cx="1264.30" cy="284.97" r="2.6" fill="url(#gS)"/>
<circle cx="1319.70" cy="284.97" r="2.6" fill="url(#gS)"/>
<circle cx="1375.10" cy="284.97" r="2.6" fill="url(#gS)"/>
<circle cx="904.20" cy="333.07" r="2.6" fill="url(#gS)"/>
<circle cx="959.60" cy="333.07" r="2.6" fill="url(#gS)"/>
<circle cx="1015.00" cy="333.07" r="2.6" fill="url(#gS)"/>
<circle cx="1070.40" cy="333.07" r="2.6" fill="url(#gS)"/>
<circle cx="1125.80" cy="333.07" r="2.6" fill="url(#gS)"/>
<circle cx="1181.20" cy="333.07" r="2.6" fill="url(#gS)"/>
<circle cx="1236.60" cy="333.07" r="2.6" fill="url(#gS)"/>
<circle cx="1292.00" cy="333.07" r="2.6" fill="url(#gS)"/>
<circle cx="1347.40" cy="333.07" r="2.6" fill="url(#gS)"/>
<circle cx="1402.80" cy="333.07" r="2.6" fill="url(#gS)"/>
<circle cx="876.50" cy="381.17" r="2.6" fill="url(#gS)"/>
<circle cx="931.90" cy="381.17" r="2.6" fill="url(#gS)"/>
<circle cx="987.30" cy="381.17" r="2.6" fill="url(#gS)"/>
<circle cx="1042.70" cy="381.17" r="2.6" fill="url(#gS)"/>
<circle cx="1098.10" cy="381.17" r="2.6" fill="url(#gS)"/>
<circle cx="1153.50" cy="381.17" r="2.6" fill="url(#gS)"/>
<circle cx="1208.90" cy="381.17" r="2.6" fill="url(#gS)"/>
<circle cx="1264.30" cy="381.17" r="2.6" fill="url(#gS)"/>
<circle cx="1319.70" cy="381.17" r="2.6" fill="url(#gS)"/>
<circle cx="1375.10" cy="381.17" r="2.6" fill="url(#gS)"/>
<circle cx="904.20" cy="429.27" r="2.6" fill="url(#gS)"/>
<circle cx="959.60" cy="429.27" r="2.6" fill="url(#gS)"/>
<circle cx="1015.00" cy="429.27" r="2.6" fill="url(#gS)"/>
<circle cx="1070.40" cy="429.27" r="2.6" fill="url(#gS)"/>
<circle cx="1125.80" cy="429.27" r="2.6" fill="url(#gS)"/>
<circle cx="1181.20" cy="429.27" r="2.6" fill="url(#gS)"/>
<circle cx="1236.60" cy="429.27" r="2.6" fill="url(#gS)"/>
<circle cx="1292.00" cy="429.27" r="2.6" fill="url(#gS)"/>
<circle cx="1347.40" cy="429.27" r="2.6" fill="url(#gS)"/>
<circle cx="1402.80" cy="429.27" r="2.6" fill="url(#gS)"/>
<circle cx="904.20" cy="12.40" r="10.3" fill="url(#gR)"/>
<circle cx="959.60" cy="12.40" r="10.3" fill="url(#gB)"/>
<circle cx="1015.00" cy="12.40" r="10.3" fill="url(#gR)"/>
<circle cx="1070.40" cy="12.40" r="10.3" fill="url(#gR)"/>
<circle cx="1125.80" cy="12.40" r="10.3" fill="url(#gB)"/>
<circle cx="1181.20" cy="12.40" r="10.3" fill="url(#gR)"/>
<circle cx="1236.60" cy="12.40" r="10.3" fill="url(#gR)"/>
<circle cx="1292.00" cy="12.40" r="10.3" fill="url(#gB)"/>
<circle cx="1347.40" cy="12.40" r="10.3" fill="url(#gR)"/>
<circle cx="1402.80" cy="12.40" r="10.3" fill="url(#gR)"/>
<circle cx="876.50" cy="60.50" r="10.3" fill="url(#gB)"/>
<circle cx="931.90" cy="60.50" r="10.3" fill="url(#gR)"/>
<circle cx="987.30" cy="60.50" r="10.3" fill="url(#gR)"/>
<circle cx="1042.70" cy="60.50" r="10.3" fill="url(#gB)"/>
<circle cx="1098.10" cy="60.50" r="10.3" fill="url(#gR)"/>
<circle cx="1153.50" cy="60.50" r="10.3" fill="url(#gR)"/>
<circle cx="1208.90" cy="60.50" r="10.3" fill="url(#gB)"/>
<circle cx="1264.30" cy="60.50" r="10.3" fill="url(#gR)"/>
<circle cx="1319.70" cy="60.50" r="10.3" fill="url(#gR)"/>
<circle cx="1375.10" cy="60.50" r="10.3" fill="url(#gB)"/>
<circle cx="904.20" cy="108.60" r="10.3" fill="url(#gR)"/>
<circle cx="959.60" cy="108.60" r="10.3" fill="url(#gB)"/>
<circle cx="1015.00" cy="108.60" r="10.3" fill="url(#gR)"/>
<circle cx="1070.40" cy="108.60" r="10.3" fill="url(#gR)"/>
<circle cx="1125.80" cy="108.60" r="10.3" fill="url(#gB)"/>
<circle cx="1181.20" cy="108.60" r="10.3" fill="url(#gR)"/>
<circle cx="1236.60" cy="108.60" r="10.3" fill="url(#gR)"/>
<circle cx="1292.00" cy="108.60" r="10.3" fill="url(#gB)"/>
<circle cx="1347.40" cy="108.60" r="10.3" fill="url(#gR)"/>
<circle cx="1402.80" cy="108.60" r="10.3" fill="url(#gR)"/>
<circle cx="876.50" cy="156.70" r="10.3" fill="url(#gB)"/>
<circle cx="931.90" cy="156.70" r="10.3" fill="url(#gR)"/>
<circle cx="987.30" cy="156.70" r="10.3" fill="url(#gR)"/>
<circle cx="1042.70" cy="156.70" r="10.3" fill="url(#gB)"/>
<circle cx="1098.10" cy="156.70" r="10.3" fill="url(#gR)"/>
<circle cx="1153.50" cy="156.70" r="10.3" fill="url(#gR)"/>
<circle cx="1208.90" cy="156.70" r="10.3" fill="url(#gB)"/>
<circle cx="1264.30" cy="156.70" r="10.3" fill="url(#gR)"/>
<circle cx="1319.70" cy="156.70" r="10.3" fill="url(#gR)"/>
<circle cx="1375.10" cy="156.70" r="10.3" fill="url(#gB)"/>
<circle cx="904.20" cy="204.80" r="10.3" fill="url(#gR)"/>
<circle cx="959.60" cy="204.80" r="10.3" fill="url(#gB)"/>
<circle cx="1015.00" cy="204.80" r="10.3" fill="url(#gR)"/>
<circle cx="1070.40" cy="204.80" r="10.3" fill="url(#gR)"/>
<circle cx="1125.80" cy="204.80" r="10.3" fill="url(#gB)"/>
<circle cx="1181.20" cy="204.80" r="10.3" fill="url(#gR)"/>
<circle cx="1236.60" cy="204.80" r="10.3" fill="url(#gR)"/>
<circle cx="1292.00" cy="204.80" r="10.3" fill="url(#gB)"/>
<circle cx="1347.40" cy="204.80" r="10.3" fill="url(#gR)"/>
<circle cx="1402.80" cy="204.80" r="10.3" fill="url(#gR)"/>
<circle cx="876.50" cy="252.90" r="10.3" fill="url(#gB)"/>
<circle cx="931.90" cy="252.90" r="10.3" fill="url(#gR)"/>
<circle cx="987.30" cy="252.90" r="10.3" fill="url(#gR)"/>
<circle cx="1042.70" cy="252.90" r="10.3" fill="url(#gB)"/>
<circle cx="1098.10" cy="252.90" r="10.3" fill="url(#gR)"/>
<circle cx="1153.50" cy="252.90" r="10.3" fill="url(#gR)"/>
<circle cx="1208.90" cy="252.90" r="10.3" fill="url(#gB)"/>
<circle cx="1264.30" cy="252.90" r="10.3" fill="url(#gR)"/>
<circle cx="1319.70" cy="252.90" r="10.3" fill="url(#gR)"/>
<circle cx="1375.10" cy="252.90" r="10.3" fill="url(#gB)"/>
<circle cx="904.20" cy="301.00" r="10.3" fill="url(#gR)"/>
<circle cx="959.60" cy="301.00" r="10.3" fill="url(#gB)"/>
<circle cx="1015.00" cy="301.00" r="10.3" fill="url(#gR)"/>
<circle cx="1070.40" cy="301.00" r="10.3" fill="url(#gR)"/>
<circle cx="1125.80" cy="301.00" r="10.3" fill="url(#gB)"/>
<circle cx="1181.20" cy="301.00" r="10.3" fill="url(#gR)"/>
<circle cx="1236.60" cy="301.00" r="10.3" fill="url(#gR)"/>
<circle cx="1292.00" cy="301.00" r="10.3" fill="url(#gB)"/>
<circle cx="1347.40" cy="301.00" r="10.3" fill="url(#gR)"/>
<circle cx="1402.80" cy="301.00" r="10.3" fill="url(#gR)"/>
<circle cx="876.50" cy="349.10" r="10.3" fill="url(#gB)"/>
<circle cx="931.90" cy="349.10" r="10.3" fill="url(#gR)"/>
<circle cx="987.30" cy="349.10" r="10.3" fill="url(#gR)"/>
<circle cx="1042.70" cy="349.10" r="10.3" fill="url(#gB)"/>
<circle cx="1098.10" cy="349.10" r="10.3" fill="url(#gR)"/>
<circle cx="1153.50" cy="349.10" r="10.3" fill="url(#gR)"/>
<circle cx="1208.90" cy="349.10" r="10.3" fill="url(#gB)"/>
<circle cx="1264.30" cy="349.10" r="10.3" fill="url(#gR)"/>
<circle cx="1319.70" cy="349.10" r="10.3" fill="url(#gR)"/>
<circle cx="1375.10" cy="349.10" r="10.3" fill="url(#gB)"/>
<circle cx="904.20" cy="397.20" r="10.3" fill="url(#gR)"/>
<circle cx="959.60" cy="397.20" r="10.3" fill="url(#gB)"/>
<circle cx="1015.00" cy="397.20" r="10.3" fill="url(#gR)"/>
<circle cx="1070.40" cy="397.20" r="10.3" fill="url(#gR)"/>
<circle cx="1125.80" cy="397.20" r="10.3" fill="url(#gB)"/>
<circle cx="1181.20" cy="397.20" r="10.3" fill="url(#gR)"/>
<circle cx="1236.60" cy="397.20" r="10.3" fill="url(#gR)"/>
<circle cx="1292.00" cy="397.20" r="10.3" fill="url(#gB)"/>
<circle cx="1347.40" cy="397.20" r="10.3" fill="url(#gR)"/>
<circle cx="1402.80" cy="397.20" r="10.3" fill="url(#gR)"/>
<polygon points="1070.40,108.60 1153.50,156.70 1153.50,252.90 1070.40,204.80" fill="none" stroke="#000" stroke-width="5.1" stroke-linecap="round" stroke-dasharray="0 14.8"/>
</g>
<text x="989.5" y="383.5" font-size="29" font-weight="bold">(c)</text>
<g clip-path="url(#clipC)">
<path d="M904.90,384.97L904.90,372.78M904.90,384.97L894.38,391.05M904.90,384.97L915.42,391.05M960.30,384.97L960.30,372.78M960.30,384.97L949.78,391.05M960.30,384.97L970.82,391.05M1015.70,384.97L1015.70,372.78M1015.70,384.97L1005.18,391.05M1015.70,384.97L1026.22,391.05M1071.10,384.97L1071.10,372.78M1071.10,384.97L1060.58,391.05M1071.10,384.97L1081.62,391.05M1126.50,384.97L1126.50,372.78M1126.50,384.97L1115.98,391.05M1126.50,384.97L1137.02,391.05M1181.90,384.97L1181.90,372.78M1181.90,384.97L1171.38,391.05M1181.90,384.97L1192.42,391.05M1237.30,384.97L1237.30,372.78M1237.30,384.97L1226.78,391.05M1237.30,384.97L1247.82,391.05M1292.70,384.97L1292.70,372.78M1292.70,384.97L1282.18,391.05M1292.70,384.97L1303.22,391.05M1348.10,384.97L1348.10,372.78M1348.10,384.97L1337.58,391.05M1348.10,384.97L1358.62,391.05M1403.50,384.97L1403.50,372.78M1403.50,384.97L1392.98,391.05M877.20,433.07L877.20,420.88M877.20,433.07L887.72,439.15M932.60,433.07L932.60,420.88M932.60,433.07L922.08,439.15M932.60,433.07L943.12,439.15M988.00,433.07L988.00,420.88M988.00,433.07L977.48,439.15M988.00,433.07L998.52,439.15M1043.40,433.07L1043.40,420.88M1043.40,433.07L1032.88,439.15M1043.40,433.07L1053.92,439.15M1098.80,433.07L1098.80,420.88M1098.80,433.07L1088.28,439.15M1098.80,433.07L1109.32,439.15M1154.20,433.07L1154.20,420.88M1154.20,433.07L1143.68,439.15M1154.20,433.07L1164.72,439.15M1209.60,433.07L1209.60,420.88M1209.60,433.07L1199.08,439.15M1209.60,433.07L1220.12,439.15M1265.00,433.07L1265.00,420.88M1265.00,433.07L1254.48,439.15M1265.00,433.07L1275.52,439.15M1320.40,433.07L1320.40,420.88M1320.40,433.07L1309.88,439.15M1320.40,433.07L1330.92,439.15M1375.80,433.07L1375.80,420.88M1375.80,433.07L1365.28,439.15M1375.80,433.07L1386.32,439.15M904.90,481.17L904.90,468.98M904.90,481.17L894.38,487.25M904.90,481.17L915.42,487.25M960.30,481.17L960.30,468.98M960.30,481.17L949.78,487.25M960.30,481.17L970.82,487.25M1015.70,481.17L1015.70,468.98M1015.70,481.17L1005.18,487.25M1015.70,481.17L1026.22,487.25M1071.10,481.17L1071.10,468.98M1071.10,481.17L1060.58,487.25M1071.10,481.17L1081.62,487.25M1126.50,481.17L1126.50,468.98M1126.50,481.17L1115.98,487.25M1126.50,481.17L1137.02,487.25M1181.90,481.17L1181.90,468.98M1181.90,481.17L1171.38,487.25M1181.90,481.17L1192.42,487.25M1237.30,481.17L1237.30,468.98M1237.30,481.17L1226.78,487.25M1237.30,481.17L1247.82,487.25M1292.70,481.17L1292.70,468.98M1292.70,481.17L1282.18,487.25M1292.70,481.17L1303.22,487.25M1348.10,481.17L1348.10,468.98M1348.10,481.17L1337.58,487.25M1348.10,481.17L1358.62,487.25M1403.50,481.17L1403.50,468.98M1403.50,481.17L1392.98,487.25M877.20,529.27L877.20,517.08M877.20,529.27L887.72,535.35M932.60,529.27L932.60,517.08M932.60,529.27L922.08,535.35M932.60,529.27L943.12,535.35M988.00,529.27L988.00,517.08M988.00,529.27L977.48,535.35M988.00,529.27L998.52,535.35M1043.40,529.27L1043.40,517.08M1043.40,529.27L1032.88,535.35M1043.40,529.27L1053.92,535.35M1098.80,529.27L1098.80,517.08M1098.80,529.27L1088.28,535.35M1098.80,529.27L1109.32,535.35M1154.20,529.27L1154.20,517.08M1154.20,529.27L1143.68,535.35M1154.20,529.27L1164.72,535.35M1209.60,529.27L1209.60,517.08M1209.60,529.27L1199.08,535.35M1209.60,529.27L1220.12,535.35M1265.00,529.27L1265.00,517.08M1265.00,529.27L1254.48,535.35M1265.00,529.27L1275.52,535.35M1320.40,529.27L1320.40,517.08M1320.40,529.27L1309.88,535.35M1320.40,529.27L1330.92,535.35M1375.80,529.27L1375.80,517.08M1375.80,529.27L1365.28,535.35M1375.80,529.27L1386.32,535.35M904.90,577.37L904.90,565.18M904.90,577.37L894.38,583.45M904.90,577.37L915.42,583.45M960.30,577.37L960.30,565.18M960.30,577.37L949.78,583.45M960.30,577.37L970.82,583.45M1015.70,577.37L1015.70,565.18M1015.70,577.37L1005.18,583.45M1015.70,577.37L1026.22,583.45M1071.10,577.37L1071.10,565.18M1071.10,577.37L1060.58,583.45M1071.10,577.37L1081.62,583.45M1126.50,577.37L1126.50,565.18M1126.50,577.37L1115.98,583.45M1126.50,577.37L1137.02,583.45M1181.90,577.37L1181.90,565.18M1181.90,577.37L1171.38,583.45M1181.90,577.37L1192.42,583.45M1237.30,577.37L1237.30,565.18M1237.30,577.37L1226.78,583.45M1237.30,577.37L1247.82,583.45M1292.70,577.37L1292.70,565.18M1292.70,577.37L1282.18,583.45M1292.70,577.37L1303.22,583.45M1348.10,577.37L1348.10,565.18M1348.10,577.37L1337.58,583.45M1348.10,577.37L1358.62,583.45M1403.50,577.37L1403.50,565.18M1403.50,577.37L1392.98,583.45M877.20,625.47L877.20,613.28M877.20,625.47L887.72,631.55M932.60,625.47L932.60,613.28M932.60,625.47L922.08,631.55M932.60,625.47L943.12,631.55M988.00,625.47L988.00,613.28M988.00,625.47L977.48,631.55M988.00,625.47L998.52,631.55M1043.40,625.47L1043.40,613.28M1043.40,625.47L1032.88,631.55M1043.40,625.47L1053.92,631.55M1098.80,625.47L1098.80,613.28M1098.80,625.47L1088.28,631.55M1098.80,625.47L1109.32,631.55M1154.20,625.47L1154.20,613.28M1154.20,625.47L1143.68,631.55M1154.20,625.47L1164.72,631.55M1209.60,625.47L1209.60,613.28M1209.60,625.47L1199.08,631.55M1209.60,625.47L1220.12,631.55M1265.00,625.47L1265.00,613.28M1265.00,625.47L1254.48,631.55M1265.00,625.47L1275.52,631.55M1320.40,625.47L1320.40,613.28M1320.40,625.47L1309.88,631.55M1320.40,625.47L1330.92,631.55M1375.80,625.47L1375.80,613.28M1375.80,625.47L1365.28,631.55M1375.80,625.47L1386.32,631.55M904.90,673.57L904.90,661.38M904.90,673.57L894.38,679.65M904.90,673.57L915.42,679.65M960.30,673.57L960.30,661.38M960.30,673.57L949.78,679.65M960.30,673.57L970.82,679.65M1015.70,673.57L1015.70,661.38M1015.70,673.57L1005.18,679.65M1015.70,673.57L1026.22,679.65M1071.10,673.57L1071.10,661.38M1071.10,673.57L1060.58,679.65M1071.10,673.57L1081.62,679.65M1126.50,673.57L1126.50,661.38M1126.50,673.57L1115.98,679.65M1126.50,673.57L1137.02,679.65M1181.90,673.57L1181.90,661.38M1181.90,673.57L1171.38,679.65M1181.90,673.57L1192.42,679.65M1237.30,673.57L1237.30,661.38M1237.30,673.57L1226.78,679.65M1237.30,673.57L1247.82,679.65M1292.70,673.57L1292.70,661.38M1292.70,673.57L1282.18,679.65M1292.70,673.57L1303.22,679.65M1348.10,673.57L1348.10,661.38M1348.10,673.57L1337.58,679.65M1348.10,673.57L1358.62,679.65M1403.50,673.57L1403.50,661.38M1403.50,673.57L1392.98,679.65M877.20,721.67L877.20,709.48M877.20,721.67L887.72,727.75M932.60,721.67L932.60,709.48M932.60,721.67L922.08,727.75M932.60,721.67L943.12,727.75M988.00,721.67L988.00,709.48M988.00,721.67L977.48,727.75M988.00,721.67L998.52,727.75M1043.40,721.67L1043.40,709.48M1043.40,721.67L1032.88,727.75M1043.40,721.67L1053.92,727.75M1098.80,721.67L1098.80,709.48M1098.80,721.67L1088.28,727.75M1098.80,721.67L1109.32,727.75M1154.20,721.67L1154.20,709.48M1154.20,721.67L1143.68,727.75M1154.20,721.67L1164.72,727.75M1209.60,721.67L1209.60,709.48M1209.60,721.67L1199.08,727.75M1209.60,721.67L1220.12,727.75M1265.00,721.67L1265.00,709.48M1265.00,721.67L1254.48,727.75M1265.00,721.67L1275.52,727.75M1320.40,721.67L1320.40,709.48M1320.40,721.67L1309.88,727.75M1320.40,721.67L1330.92,727.75M1375.80,721.67L1375.80,709.48M1375.80,721.67L1365.28,727.75M1375.80,721.67L1386.32,727.75M904.90,769.77L904.90,757.58M960.30,769.77L960.30,757.58M1015.70,769.77L1015.70,757.58M1071.10,769.77L1071.10,757.58M1126.50,769.77L1126.50,757.58M1181.90,769.77L1181.90,757.58M1237.30,769.77L1237.30,757.58M1292.70,769.77L1292.70,757.58M1348.10,769.77L1348.10,757.58M1403.50,769.77L1403.50,757.58" stroke="#d2ca46" stroke-width="1.8" fill="none"/>
<path d="M894.38,391.05L877.20,401.00M960.30,372.78L960.30,352.90M1026.22,391.05L1043.40,401.00M1060.58,391.05L1043.40,401.00M1126.50,372.78L1126.50,352.90M1192.42,391.05L1209.60,401.00M1226.78,391.05L1209.60,401.00M1292.70,372.78L1292.70,352.90M1358.62,391.05L1375.80,401.00M1392.98,391.05L1375.80,401.00M877.20,420.88L877.20,401.00M943.12,439.15L960.30,449.10M977.48,439.15L960.30,449.10M1043.40,420.88L1043.40,401.00M1109.32,439.15L1126.50,449.10M1143.68,439.15L1126.50,449.10M1209.60,420.88L1209.60,401.00M1275.52,439.15L1292.70,449.10M1309.88,439.15L1292.70,449.10M1375.80,420.88L1375.80,401.00M894.38,487.25L877.20,497.20M960.30,468.98L960.30,449.10M1026.22,487.25L1043.40,497.20M1060.58,487.25L1043.40,497.20M1126.50,468.98L1126.50,449.10M1192.42,487.25L1209.60,497.20M1226.78,487.25L1209.60,497.20M1292.70,468.98L1292.70,449.10M1358.62,487.25L1375.80,497.20M1392.98,487.25L1375.80,497.20M877.20,517.08L877.20,497.20M943.12,535.35L960.30,545.30M977.48,535.35L960.30,545.30M1043.40,517.08L1043.40,497.20M1109.32,535.35L1126.50,545.30M1143.68,535.35L1126.50,545.30M1209.60,517.08L1209.60,497.20M1275.52,535.35L1292.70,545.30M1309.88,535.35L1292.70,545.30M1375.80,517.08L1375.80,497.20M894.38,583.45L877.20,593.40M960.30,565.18L960.30,545.30M1026.22,583.45L1043.40,593.40M1060.58,583.45L1043.40,593.40M1126.50,565.18L1126.50,545.30M1192.42,583.45L1209.60,593.40M1226.78,583.45L1209.60,593.40M1292.70,565.18L1292.70,545.30M1358.62,583.45L1375.80,593.40M1392.98,583.45L1375.80,593.40M877.20,613.28L877.20,593.40M943.12,631.55L960.30,641.50M977.48,631.55L960.30,641.50M1043.40,613.28L1043.40,593.40M1109.32,631.55L1126.50,641.50M1143.68,631.55L1126.50,641.50M1209.60,613.28L1209.60,593.40M1275.52,631.55L1292.70,641.50M1309.88,631.55L1292.70,641.50M1375.80,613.28L1375.80,593.40M894.38,679.65L877.20,689.60M960.30,661.38L960.30,641.50M1026.22,679.65L1043.40,689.60M1060.58,679.65L1043.40,689.60M1126.50,661.38L1126.50,641.50M1192.42,679.65L1209.60,689.60M1226.78,679.65L1209.60,689.60M1292.70,661.38L1292.70,641.50M1358.62,679.65L1375.80,689.60M1392.98,679.65L1375.80,689.60M877.20,709.48L877.20,689.60M943.12,727.75L960.30,737.70M977.48,727.75L960.30,737.70M1043.40,709.48L1043.40,689.60M1109.32,727.75L1126.50,737.70M1143.68,727.75L1126.50,737.70M1209.60,709.48L1209.60,689.60M1275.52,727.75L1292.70,737.70M1309.88,727.75L1292.70,737.70M1375.80,709.48L1375.80,689.60M960.30,757.58L960.30,737.70M1126.50,757.58L1126.50,737.70M1292.70,757.58L1292.70,737.70" stroke="#bc2e2e" stroke-width="1.8" fill="none"/>
<path d="M904.90,372.78L904.90,352.90M915.42,391.05L932.60,401.00M949.78,391.05L932.60,401.00M970.82,391.05L988.00,401.00M1015.70,372.78L1015.70,352.90M1005.18,391.05L988.00,401.00M1071.10,372.78L1071.10,352.90M1081.62,391.05L1098.80,401.00M1115.98,391.05L1098.80,401.00M1137.02,391.05L1154.20,401.00M1181.90,372.78L1181.90,352.90M1171.38,391.05L1154.20,401.00M1237.30,372.78L1237.30,352.90M1247.82,391.05L1265.00,401.00M1282.18,391.05L1265.00,401.00M1303.22,391.05L1320.40,401.00M1348.10,372.78L1348.10,352.90M1337.58,391.05L1320.40,401.00M1403.50,372.78L1403.50,352.90M887.72,439.15L904.90,449.10M932.60,420.88L932.60,401.00M922.08,439.15L904.90,449.10M988.00,420.88L988.00,401.00M998.52,439.15L1015.70,449.10M1032.88,439.15L1015.70,449.10M1053.92,439.15L1071.10,449.10M1098.80,420.88L1098.80,401.00M1088.28,439.15L1071.10,449.10M1154.20,420.88L1154.20,401.00M1164.72,439.15L1181.90,449.10M1199.08,439.15L1181.90,449.10M1220.12,439.15L1237.30,449.10M1265.00,420.88L1265.00,401.00M1254.48,439.15L1237.30,449.10M1320.40,420.88L1320.40,401.00M1330.92,439.15L1348.10,449.10M1365.28,439.15L1348.10,449.10M1386.32,439.15L1403.50,449.10M904.90,468.98L904.90,449.10M915.42,487.25L932.60,497.20M949.78,487.25L932.60,497.20M970.82,487.25L988.00,497.20M1015.70,468.98L1015.70,449.10M1005.18,487.25L988.00,497.20M1071.10,468.98L1071.10,449.10M1081.62,487.25L1098.80,497.20M1115.98,487.25L1098.80,497.20M1137.02,487.25L1154.20,497.20M1181.90,468.98L1181.90,449.10M1171.38,487.25L1154.20,497.20M1237.30,468.98L1237.30,449.10M1247.82,487.25L1265.00,497.20M1282.18,487.25L1265.00,497.20M1303.22,487.25L1320.40,497.20M1348.10,468.98L1348.10,449.10M1337.58,487.25L1320.40,497.20M1403.50,468.98L1403.50,449.10M887.72,535.35L904.90,545.30M932.60,517.08L932.60,497.20M922.08,535.35L904.90,545.30M988.00,517.08L988.00,497.20M998.52,535.35L1015.70,545.30M1032.88,535.35L1015.70,545.30M1053.92,535.35L1071.10,545.30M1098.80,517.08L1098.80,497.20M1088.28,535.35L1071.10,545.30M1154.20,517.08L1154.20,497.20M1164.72,535.35L1181.90,545.30M1199.08,535.35L1181.90,545.30M1220.12,535.35L1237.30,545.30M1265.00,517.08L1265.00,497.20M1254.48,535.35L1237.30,545.30M1320.40,517.08L1320.40,497.20M1330.92,535.35L1348.10,545.30M1365.28,535.35L1348.10,545.30M1386.32,535.35L1403.50,545.30M904.90,565.18L904.90,545.30M915.42,583.45L932.60,593.40M949.78,583.45L932.60,593.40M970.82,583.45L988.00,593.40M1015.70,565.18L1015.70,545.30M1005.18,583.45L988.00,593.40M1071.10,565.18L1071.10,545.30M1081.62,583.45L1098.80,593.40M1115.98,583.45L1098.80,593.40M1137.02,583.45L1154.20,593.40M1181.90,565.18L1181.90,545.30M1171.38,583.45L1154.20,593.40M1237.30,565.18L1237.30,545.30M1247.82,583.45L1265.00,593.40M1282.18,583.45L1265.00,593.40M1303.22,583.45L1320.40,593.40M1348.10,565.18L1348.10,545.30M1337.58,583.45L1320.40,593.40M1403.50,565.18L1403.50,545.30M887.72,631.55L904.90,641.50M932.60,613.28L932.60,593.40M922.08,631.55L904.90,641.50M988.00,613.28L988.00,593.40M998.52,631.55L1015.70,641.50M1032.88,631.55L1015.70,641.50M1053.92,631.55L1071.10,641.50M1098.80,613.28L1098.80,593.40M1088.28,631.55L1071.10,641.50M1154.20,613.28L1154.20,593.40M1164.72,631.55L1181.90,641.50M1199.08,631.55L1181.90,641.50M1220.12,631.55L1237.30,641.50M1265.00,613.28L1265.00,593.40M1254.48,631.55L1237.30,641.50M1320.40,613.28L1320.40,593.40M1330.92,631.55L1348.10,641.50M1365.28,631.55L1348.10,641.50M1386.32,631.55L1403.50,641.50M904.90,661.38L904.90,641.50M915.42,679.65L932.60,689.60M949.78,679.65L932.60,689.60M970.82,679.65L988.00,689.60M1015.70,661.38L1015.70,641.50M1005.18,679.65L988.00,689.60M1071.10,661.38L1071.10,641.50M1081.62,679.65L1098.80,689.60M1115.98,679.65L1098.80,689.60M1137.02,679.65L1154.20,689.60M1181.90,661.38L1181.90,641.50M1171.38,679.65L1154.20,689.60M1237.30,661.38L1237.30,641.50M1247.82,679.65L1265.00,689.60M1282.18,679.65L1265.00,689.60M1303.22,679.65L1320.40,689.60M1348.10,661.38L1348.10,641.50M1337.58,679.65L1320.40,689.60M1403.50,661.38L1403.50,641.50M887.72,727.75L904.90,737.70M932.60,709.48L932.60,689.60M922.08,727.75L904.90,737.70M988.00,709.48L988.00,689.60M998.52,727.75L1015.70,737.70M1032.88,727.75L1015.70,737.70M1053.92,727.75L1071.10,737.70M1098.80,709.48L1098.80,689.60M1088.28,727.75L1071.10,737.70M1154.20,709.48L1154.20,689.60M1164.72,727.75L1181.90,737.70M1199.08,727.75L1181.90,737.70M1220.12,727.75L1237.30,737.70M1265.00,709.48L1265.00,689.60M1254.48,727.75L1237.30,737.70M1320.40,709.48L1320.40,689.60M1330.92,727.75L1348.10,737.70M1365.28,727.75L1348.10,737.70M1386.32,727.75L1403.50,737.70M904.90,757.58L904.90,737.70M1015.70,757.58L1015.70,737.70M1071.10,757.58L1071.10,737.70M1181.90,757.58L1181.90,737.70M1237.30,757.58L1237.30,737.70M1348.10,757.58L1348.10,737.70M1403.50,757.58L1403.50,737.70" stroke="#3678c2" stroke-width="1.8" fill="none"/>
<circle cx="904.90" cy="384.97" r="2.6" fill="url(#gS)"/>
<circle cx="960.30" cy="384.97" r="2.6" fill="url(#gS)"/>
<circle cx="1015.70" cy="384.97" r="2.6" fill="url(#gS)"/>
<circle cx="1071.10" cy="384.97" r="2.6" fill="url(#gS)"/>
<circle cx="1126.50" cy="384.97" r="2.6" fill="url(#gS)"/>
<circle cx="1181.90" cy="384.97" r="2.6" fill="url(#gS)"/>
<circle cx="1237.30" cy="384.97" r="2.6" fill="url(#gS)"/>
<circle cx="1292.70" cy="384.97" r="2.6" fill="url(#gS)"/>
<circle cx="1348.10" cy="384.97" r="2.6" fill="url(#gS)"/>
<circle cx="1403.50" cy="384.97" r="2.6" fill="url(#gS)"/>
<circle cx="877.20" cy="433.07" r="2.6" fill="url(#gS)"/>
<circle cx="932.60" cy="433.07" r="2.6" fill="url(#gS)"/>
<circle cx="988.00" cy="433.07" r="2.6" fill="url(#gS)"/>
<circle cx="1043.40" cy="433.07" r="2.6" fill="url(#gS)"/>
<circle cx="1098.80" cy="433.07" r="2.6" fill="url(#gS)"/>
<circle cx="1154.20" cy="433.07" r="2.6" fill="url(#gS)"/>
<circle cx="1209.60" cy="433.07" r="2.6" fill="url(#gS)"/>
<circle cx="1265.00" cy="433.07" r="2.6" fill="url(#gS)"/>
<circle cx="1320.40" cy="433.07" r="2.6" fill="url(#gS)"/>
<circle cx="1375.80" cy="433.07" r="2.6" fill="url(#gS)"/>
<circle cx="904.90" cy="481.17" r="2.6" fill="url(#gS)"/>
<circle cx="960.30" cy="481.17" r="2.6" fill="url(#gS)"/>
<circle cx="1015.70" cy="481.17" r="2.6" fill="url(#gS)"/>
<circle cx="1071.10" cy="481.17" r="2.6" fill="url(#gS)"/>
<circle cx="1126.50" cy="481.17" r="2.6" fill="url(#gS)"/>
<circle cx="1181.90" cy="481.17" r="2.6" fill="url(#gS)"/>
<circle cx="1237.30" cy="481.17" r="2.6" fill="url(#gS)"/>
<circle cx="1292.70" cy="481.17" r="2.6" fill="url(#gS)"/>
<circle cx="1348.10" cy="481.17" r="2.6" fill="url(#gS)"/>
<circle cx="1403.50" cy="481.17" r="2.6" fill="url(#gS)"/>
<circle cx="877.20" cy="529.27" r="2.6" fill="url(#gS)"/>
<circle cx="932.60" cy="529.27" r="2.6" fill="url(#gS)"/>
<circle cx="988.00" cy="529.27" r="2.6" fill="url(#gS)"/>
<circle cx="1043.40" cy="529.27" r="2.6" fill="url(#gS)"/>
<circle cx="1098.80" cy="529.27" r="2.6" fill="url(#gS)"/>
<circle cx="1154.20" cy="529.27" r="2.6" fill="url(#gS)"/>
<circle cx="1209.60" cy="529.27" r="2.6" fill="url(#gS)"/>
<circle cx="1265.00" cy="529.27" r="2.6" fill="url(#gS)"/>
<circle cx="1320.40" cy="529.27" r="2.6" fill="url(#gS)"/>
<circle cx="1375.80" cy="529.27" r="2.6" fill="url(#gS)"/>
<circle cx="904.90" cy="577.37" r="2.6" fill="url(#gS)"/>
<circle cx="960.30" cy="577.37" r="2.6" fill="url(#gS)"/>
<circle cx="1015.70" cy="577.37" r="2.6" fill="url(#gS)"/>
<circle cx="1071.10" cy="577.37" r="2.6" fill="url(#gS)"/>
<circle cx="1126.50" cy="577.37" r="2.6" fill="url(#gS)"/>
<circle cx="1181.90" cy="577.37" r="2.6" fill="url(#gS)"/>
<circle cx="1237.30" cy="577.37" r="2.6" fill="url(#gS)"/>
<circle cx="1292.70" cy="577.37" r="2.6" fill="url(#gS)"/>
<circle cx="1348.10" cy="577.37" r="2.6" fill="url(#gS)"/>
<circle cx="1403.50" cy="577.37" r="2.6" fill="url(#gS)"/>
<circle cx="877.20" cy="625.47" r="2.6" fill="url(#gS)"/>
<circle cx="932.60" cy="625.47" r="2.6" fill="url(#gS)"/>
<circle cx="988.00" cy="625.47" r="2.6" fill="url(#gS)"/>
<circle cx="1043.40" cy="625.47" r="2.6" fill="url(#gS)"/>
<circle cx="1098.80" cy="625.47" r="2.6" fill="url(#gS)"/>
<circle cx="1154.20" cy="625.47" r="2.6" fill="url(#gS)"/>
<circle cx="1209.60" cy="625.47" r="2.6" fill="url(#gS)"/>
<circle cx="1265.00" cy="625.47" r="2.6" fill="url(#gS)"/>
<circle cx="1320.40" cy="625.47" r="2.6" fill="url(#gS)"/>
<circle cx="1375.80" cy="625.47" r="2.6" fill="url(#gS)"/>
<circle cx="904.90" cy="673.57" r="2.6" fill="url(#gS)"/>
<circle cx="960.30" cy="673.57" r="2.6" fill="url(#gS)"/>
<circle cx="1015.70" cy="673.57" r="2.6" fill="url(#gS)"/>
<circle cx="1071.10" cy="673.57" r="2.6" fill="url(#gS)"/>
<circle cx="1126.50" cy="673.57" r="2.6" fill="url(#gS)"/>
<circle cx="1181.90" cy="673.57" r="2.6" fill="url(#gS)"/>
<circle cx="1237.30" cy="673.57" r="2.6" fill="url(#gS)"/>
<circle cx="1292.70" cy="673.57" r="2.6" fill="url(#gS)"/>
<circle cx="1348.10" cy="673.57" r="2.6" fill="url(#gS)"/>
<circle cx="1403.50" cy="673.57" r="2.6" fill="url(#gS)"/>
<circle cx="877.20" cy="721.67" r="2.6" fill="url(#gS)"/>
<circle cx="932.60" cy="721.67" r="2.6" fill="url(#gS)"/>
<circle cx="988.00" cy="721.67" r="2.6" fill="url(#gS)"/>
<circle cx="1043.40" cy="721.67" r="2.6" fill="url(#gS)"/>
<circle cx="1098.80" cy="721.67" r="2.6" fill="url(#gS)"/>
<circle cx="1154.20" cy="721.67" r="2.6" fill="url(#gS)"/>
<circle cx="1209.60" cy="721.67" r="2.6" fill="url(#gS)"/>
<circle cx="1265.00" cy="721.67" r="2.6" fill="url(#gS)"/>
<circle cx="1320.40" cy="721.67" r="2.6" fill="url(#gS)"/>
<circle cx="1375.80" cy="721.67" r="2.6" fill="url(#gS)"/>
<circle cx="904.90" cy="769.77" r="2.6" fill="url(#gS)"/>
<circle cx="960.30" cy="769.77" r="2.6" fill="url(#gS)"/>
<circle cx="1015.70" cy="769.77" r="2.6" fill="url(#gS)"/>
<circle cx="1071.10" cy="769.77" r="2.6" fill="url(#gS)"/>
<circle cx="1126.50" cy="769.77" r="2.6" fill="url(#gS)"/>
<circle cx="1181.90" cy="769.77" r="2.6" fill="url(#gS)"/>
<circle cx="1237.30" cy="769.77" r="2.6" fill="url(#gS)"/>
<circle cx="1292.70" cy="769.77" r="2.6" fill="url(#gS)"/>
<circle cx="1348.10" cy="769.77" r="2.6" fill="url(#gS)"/>
<circle cx="1403.50" cy="769.77" r="2.6" fill="url(#gS)"/>
<circle cx="904.90" cy="352.90" r="10.3" fill="url(#gB)"/>
<circle cx="960.30" cy="352.90" r="10.3" fill="url(#gR)"/>
<circle cx="1015.70" cy="352.90" r="10.3" fill="url(#gB)"/>
<circle cx="1071.10" cy="352.90" r="10.3" fill="url(#gB)"/>
<circle cx="1126.50" cy="352.90" r="10.3" fill="url(#gR)"/>
<circle cx="1181.90" cy="352.90" r="10.3" fill="url(#gB)"/>
<circle cx="1237.30" cy="352.90" r="10.3" fill="url(#gB)"/>
<circle cx="1292.70" cy="352.90" r="10.3" fill="url(#gR)"/>
<circle cx="1348.10" cy="352.90" r="10.3" fill="url(#gB)"/>
<circle cx="1403.50" cy="352.90" r="10.3" fill="url(#gB)"/>
<circle cx="877.20" cy="401.00" r="10.3" fill="url(#gR)"/>
<circle cx="932.60" cy="401.00" r="10.3" fill="url(#gB)"/>
<circle cx="988.00" cy="401.00" r="10.3" fill="url(#gB)"/>
<circle cx="1043.40" cy="401.00" r="10.3" fill="url(#gR)"/>
<circle cx="1098.80" cy="401.00" r="10.3" fill="url(#gB)"/>
<circle cx="1154.20" cy="401.00" r="10.3" fill="url(#gB)"/>
<circle cx="1209.60" cy="401.00" r="10.3" fill="url(#gR)"/>
<circle cx="1265.00" cy="401.00" r="10.3" fill="url(#gB)"/>
<circle cx="1320.40" cy="401.00" r="10.3" fill="url(#gB)"/>
<circle cx="1375.80" cy="401.00" r="10.3" fill="url(#gR)"/>
<circle cx="904.90" cy="449.10" r="10.3" fill="url(#gB)"/>
<circle cx="960.30" cy="449.10" r="10.3" fill="url(#gR)"/>
<circle cx="1015.70" cy="449.10" r="10.3" fill="url(#gB)"/>
<circle cx="1071.10" cy="449.10" r="10.3" fill="url(#gB)"/>
<circle cx="1126.50" cy="449.10" r="10.3" fill="url(#gR)"/>
<circle cx="1181.90" cy="449.10" r="10.3" fill="url(#gB)"/>
<circle cx="1237.30" cy="449.10" r="10.3" fill="url(#gB)"/>
<circle cx="1292.70" cy="449.10" r="10.3" fill="url(#gR)"/>
<circle cx="1348.10" cy="449.10" r="10.3" fill="url(#gB)"/>
<circle cx="1403.50" cy="449.10" r="10.3" fill="url(#gB)"/>
<circle cx="877.20" cy="497.20" r="10.3" fill="url(#gR)"/>
<circle cx="932.60" cy="497.20" r="10.3" fill="url(#gB)"/>
<circle cx="988.00" cy="497.20" r="10.3" fill="url(#gB)"/>
<circle cx="1043.40" cy="497.20" r="10.3" fill="url(#gR)"/>
<circle cx="1098.80" cy="497.20" r="10.3" fill="url(#gB)"/>
<circle cx="1154.20" cy="497.20" r="10.3" fill="url(#gB)"/>
<circle cx="1209.60" cy="497.20" r="10.3" fill="url(#gR)"/>
<circle cx="1265.00" cy="497.20" r="10.3" fill="url(#gB)"/>
<circle cx="1320.40" cy="497.20" r="10.3" fill="url(#gB)"/>
<circle cx="1375.80" cy="497.20" r="10.3" fill="url(#gR)"/>
<circle cx="904.90" cy="545.30" r="10.3" fill="url(#gB)"/>
<circle cx="960.30" cy="545.30" r="10.3" fill="url(#gR)"/>
<circle cx="1015.70" cy="545.30" r="10.3" fill="url(#gB)"/>
<circle cx="1071.10" cy="545.30" r="10.3" fill="url(#gB)"/>
<circle cx="1126.50" cy="545.30" r="10.3" fill="url(#gR)"/>
<circle cx="1181.90" cy="545.30" r="10.3" fill="url(#gB)"/>
<circle cx="1237.30" cy="545.30" r="10.3" fill="url(#gB)"/>
<circle cx="1292.70" cy="545.30" r="10.3" fill="url(#gR)"/>
<circle cx="1348.10" cy="545.30" r="10.3" fill="url(#gB)"/>
<circle cx="1403.50" cy="545.30" r="10.3" fill="url(#gB)"/>
<circle cx="877.20" cy="593.40" r="10.3" fill="url(#gR)"/>
<circle cx="932.60" cy="593.40" r="10.3" fill="url(#gB)"/>
<circle cx="988.00" cy="593.40" r="10.3" fill="url(#gB)"/>
<circle cx="1043.40" cy="593.40" r="10.3" fill="url(#gR)"/>
<circle cx="1098.80" cy="593.40" r="10.3" fill="url(#gB)"/>
<circle cx="1154.20" cy="593.40" r="10.3" fill="url(#gB)"/>
<circle cx="1209.60" cy="593.40" r="10.3" fill="url(#gR)"/>
<circle cx="1265.00" cy="593.40" r="10.3" fill="url(#gB)"/>
<circle cx="1320.40" cy="593.40" r="10.3" fill="url(#gB)"/>
<circle cx="1375.80" cy="593.40" r="10.3" fill="url(#gR)"/>
<circle cx="904.90" cy="641.50" r="10.3" fill="url(#gB)"/>
<circle cx="960.30" cy="641.50" r="10.3" fill="url(#gR)"/>
<circle cx="1015.70" cy="641.50" r="10.3" fill="url(#gB)"/>
<circle cx="1071.10" cy="641.50" r="10.3" fill="url(#gB)"/>
<circle cx="1126.50" cy="641.50" r="10.3" fill="url(#gR)"/>
<circle cx="1181.90" cy="641.50" r="10.3" fill="url(#gB)"/>
<circle cx="1237.30" cy="641.50" r="10.3" fill="url(#gB)"/>
<circle cx="1292.70" cy="641.50" r="10.3" fill="url(#gR)"/>
<circle cx="1348.10" cy="641.50" r="10.3" fill="url(#gB)"/>
<circle cx="1403.50" cy="641.50" r="10.3" fill="url(#gB)"/>
<circle cx="877.20" cy="689.60" r="10.3" fill="url(#gR)"/>
<circle cx="932.60" cy="689.60" r="10.3" fill="url(#gB)"/>
<circle cx="988.00" cy="689.60" r="10.3" fill="url(#gB)"/>
<circle cx="1043.40" cy="689.60" r="10.3" fill="url(#gR)"/>
<circle cx="1098.80" cy="689.60" r="10.3" fill="url(#gB)"/>
<circle cx="1154.20" cy="689.60" r="10.3" fill="url(#gB)"/>
<circle cx="1209.60" cy="689.60" r="10.3" fill="url(#gR)"/>
<circle cx="1265.00" cy="689.60" r="10.3" fill="url(#gB)"/>
<circle cx="1320.40" cy="689.60" r="10.3" fill="url(#gB)"/>
<circle cx="1375.80" cy="689.60" r="10.3" fill="url(#gR)"/>
<circle cx="904.90" cy="737.70" r="10.3" fill="url(#gB)"/>
<circle cx="960.30" cy="737.70" r="10.3" fill="url(#gR)"/>
<circle cx="1015.70" cy="737.70" r="10.3" fill="url(#gB)"/>
<circle cx="1071.10" cy="737.70" r="10.3" fill="url(#gB)"/>
<circle cx="1126.50" cy="737.70" r="10.3" fill="url(#gR)"/>
<circle cx="1181.90" cy="737.70" r="10.3" fill="url(#gB)"/>
<circle cx="1237.30" cy="737.70" r="10.3" fill="url(#gB)"/>
<circle cx="1292.70" cy="737.70" r="10.3" fill="url(#gR)"/>
<circle cx="1348.10" cy="737.70" r="10.3" fill="url(#gB)"/>
<circle cx="1403.50" cy="737.70" r="10.3" fill="url(#gB)"/>
<polygon points="1071.10,449.10 1154.20,497.20 1154.20,593.40 1071.10,545.30" fill="none" stroke="#000" stroke-width="5.1" stroke-linecap="round" stroke-dasharray="0 14.8"/>
</g>
<rect x="1263.4" y="576" width="12" height="103" fill="#fff"/>
<circle cx="1283.6" cy="598.6" r="10" fill="url(#gR)"/>
<text x="1303" y="608.1" font-size="29.5" font-weight="bold">Mo</text>
<circle cx="1284.6" cy="635.4" r="5.6" fill="url(#gS)"/>
<text x="1308" y="645.1" font-size="28.5" font-weight="bold">S</text>
<circle cx="1284.6" cy="674.7" r="10.6" fill="url(#gB)"/>
<text x="1305.5" y="684.7" font-size="28.5" font-weight="bold">W</text>
</svg></body></html>
